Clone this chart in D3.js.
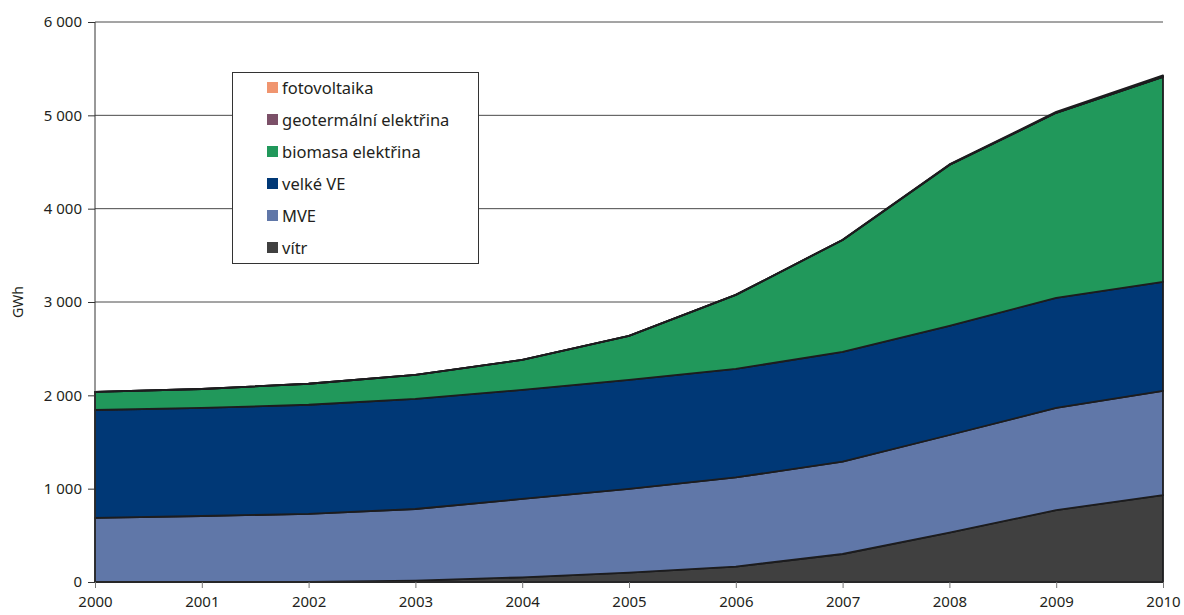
<!DOCTYPE html>
<html>
<head>
<meta charset="utf-8">
<script src="https://cdn.jsdelivr.net/npm/d3@7"></script>
<style>
  body { margin: 0; background: #fff; }
  text { font-family: "Noto Sans", "Open Sans", sans-serif; fill: #231f20; }
</style>
</head>
<body>
<svg id="chart" width="1184" height="615"></svg>
<script>
// Electricity from renewable sources, GWh (stacked from bottom up)
const years = [2000, 2001, 2002, 2003, 2004, 2005, 2006, 2007, 2008, 2009, 2010];
const vitr        = [0, 0, 2, 15, 50, 100, 165, 300, 530, 770, 930];
const mve         = [686, 707, 727, 767, 840, 897, 955, 990, 1045, 1095, 1117];
const velkeVE     = [1157, 1158, 1170, 1179, 1168, 1168, 1163, 1175, 1169, 1179, 1168];
const biomasa     = [193, 203, 225, 258, 321, 472, 793, 1200, 1725, 1983, 2198];
const geotermalni = [0, 0, 0, 0, 0, 0, 0, 0, 0, 0, 0];
const fotovoltaika = [0, 0, 0, 0, 0, 0, 0, 1, 5, 10, 15];

const yTicks = [0, 1000, 2000, 3000, 4000, 5000, 6000];

const seriesDefs = [
  { key: "vitr", name: "vítr", values: vitr, color: "#404040" },
  { key: "mve", name: "MVE", values: mve, color: "#6077a8" },
  { key: "velke", name: "velké VE", values: velkeVE, color: "#003876" },
  { key: "bio", name: "biomasa elektřina", values: biomasa, color: "#21985b" },
  { key: "geo", name: "geotermální elektřina", values: geotermalni, color: "#7b5068" },
  { key: "pv", name: "fotovoltaika", values: fotovoltaika, color: "#f0956f" }
];

const table = years.map((y, i) => {
  const row = { year: y };
  seriesDefs.forEach(s => row[s.key] = s.values[i]);
  return row;
});

const svg = d3.select("#chart");
const margin = { left: 95, right: 21, top: 22, bottom: 33 };
const W = 1184, H = 615;

const x = d3.scaleLinear().domain([2000, 2010]).range([margin.left, W - margin.right]);
const y = d3.scaleLinear().domain([0, 6000]).range([H - margin.bottom, margin.top]);

// horizontal gridlines
svg.append("g")
  .selectAll("line")
  .data(yTicks.filter(d => d > 0))
  .join("line")
  .attr("x1", x(2000)).attr("x2", x(2010))
  .attr("y1", d => y(d)).attr("y2", d => y(d))
  .attr("stroke", "#4a4a4a").attr("stroke-width", 1);

// stacked areas
const stack = d3.stack().keys(seriesDefs.map(s => s.key));
const layers = stack(table);
const area = d3.area()
  .x(d => x(d.data.year))
  .y0(d => y(d[0]))
  .y1(d => y(d[1]));

svg.append("g")
  .selectAll("path")
  .data(layers)
  .join("path")
  .attr("d", area)
  .attr("fill", (d, i) => seriesDefs[i].color)
  .attr("stroke", "#1c1c1e")
  .attr("stroke-width", 1.8)
  .attr("stroke-linejoin", "round");

// y axis
const yAxis = d3.axisLeft(y)
  .tickValues(yTicks)
  .tickSize(7)
  .tickPadding(6)
  .tickFormat(d => d3.format(",")(d).replace(/,/g, " "));
const gy = svg.append("g").attr("transform", `translate(${margin.left},0)`).call(yAxis);
gy.selectAll("text").style("font-size", "15px");
gy.selectAll("line").attr("stroke", "#333");
gy.select(".domain").attr("stroke", "#333").attr("d", `M0,${y(6000)}V${y(0)}`);

// x axis
const xAxis = d3.axisBottom(x)
  .tickValues(years)
  .tickSize(6)
  .tickPadding(8)
  .tickFormat(d3.format("d"));
const gx = svg.append("g").attr("transform", `translate(0,${y(0)})`).call(xAxis);
gx.selectAll("text").style("font-size", "15px");
gx.selectAll("line").attr("stroke", "#777");
gx.select(".domain").attr("stroke", "#333").attr("d", `M${x(2000)},0H${x(2010)}`);

// axis title
svg.append("text")
  .attr("transform", `translate(23,${y(3000)}) rotate(-90)`)
  .attr("text-anchor", "middle")
  .style("font-size", "14px")
  .text("GWh");

// legend
const lg = svg.append("g").attr("transform", "translate(232,72)");
lg.append("rect")
  .attr("x", 0.5).attr("y", 0.5)
  .attr("width", 246).attr("height", 191)
  .attr("fill", "#fff").attr("stroke", "#333").attr("stroke-width", 1);
const legendItems = seriesDefs.slice().reverse();
const li = lg.selectAll("g.item")
  .data(legendItems)
  .join("g")
  .attr("class", "item")
  .attr("transform", (d, i) => `translate(35,${16 + i * 32})`);
li.append("rect")
  .attr("x", 0).attr("y", -6)
  .attr("width", 11).attr("height", 11)
  .attr("fill", d => d.color);
li.append("text")
  .attr("x", 15).attr("y", 0)
  .attr("dy", "0.35em")
  .style("font-size", "16.5px")
  .text(d => d.name);
</script>
</body>
</html>
